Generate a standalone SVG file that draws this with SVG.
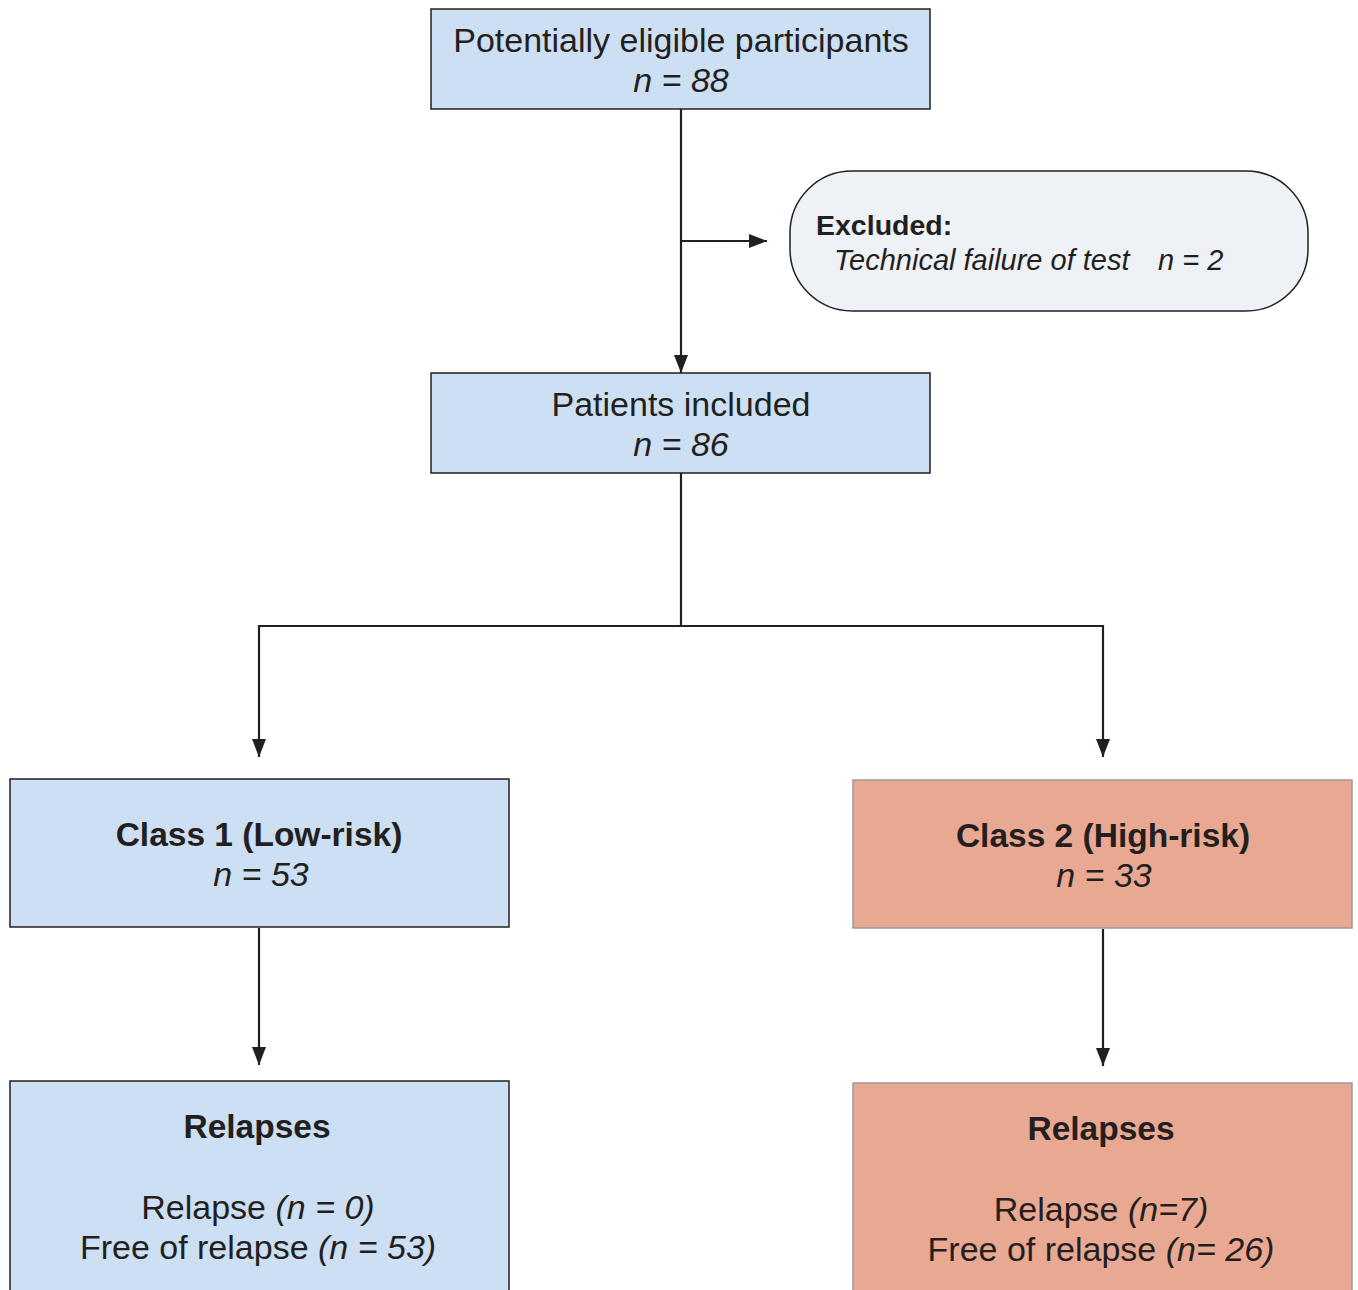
<svg xmlns="http://www.w3.org/2000/svg" width="1358" height="1290" viewBox="0 0 1358 1290">
<style>
text{font-family:"Liberation Sans",Arial,sans-serif;fill:#231f20;text-anchor:middle}
.t{font-size:34px}
.b{font-size:33.5px;font-weight:bold}
.i{font-style:italic}
.blue{fill:#cddff2;stroke:#231f20;stroke-width:1.5}
.red{fill:#e9a892;stroke:#9a9a9a;stroke-width:1.5}
.ex{fill:#eef1f6;stroke:#231f20;stroke-width:1.5}
.c{fill:none;stroke:#231f20;stroke-width:2.2}
</style>
<defs>
<marker id="ah" markerUnits="userSpaceOnUse" markerWidth="18" markerHeight="14" viewBox="0 0 18 14" refX="18" refY="7" orient="auto">
<path d="M0,0 L18,7 L0,14 Z" fill="#231f20"/>
</marker>
</defs>
<g id="connectors">
<path class="c" d="M681,109 V373" marker-end="url(#ah)"/>
<path class="c" d="M681,241 H767" marker-end="url(#ah)"/>
<path class="c" d="M681,473 V626"/>
<path class="c" d="M681,626 H259 V757" marker-end="url(#ah)"/>
<path class="c" d="M681,626 H1103 V757" marker-end="url(#ah)"/>
<path class="c" d="M259,928 V1065" marker-end="url(#ah)"/>
<path class="c" d="M1103,929 V1066" marker-end="url(#ah)"/>
</g>
<g id="n_eligible">
<rect class="blue" x="431" y="9" width="499" height="100"/>
<text class="t" x="681" y="52">Potentially eligible participants</text>
<text class="t i" x="681" y="92">n = 88</text>
</g>
<g id="n_excluded">
<rect class="ex" x="790" y="171" width="518" height="140" rx="62" ry="62"/>
<text x="816" y="235" style="font-size:28.5px;font-weight:bold;text-anchor:start">Excluded:</text>
<text x="834" y="270" class="i" style="font-size:29px;text-anchor:start">Technical failure of test</text>
<text x="1158" y="270" class="i" style="font-size:29px;text-anchor:start">n = 2</text>
</g>
<g id="n_included">
<rect class="blue" x="431" y="373" width="499" height="100"/>
<text class="t" x="681" y="416">Patients included</text>
<text class="t i" x="681" y="456">n = 86</text>
</g>
<g id="n_class1">
<rect class="blue" x="10" y="779" width="499" height="148"/>
<text class="b" x="259" y="846">Class 1 (Low-risk)</text>
<text class="t i" x="261" y="886">n = 53</text>
</g>
<g id="n_class2">
<rect class="red" x="853" y="780" width="499" height="148"/>
<text class="b" x="1103" y="847">Class 2 (High-risk)</text>
<text class="t i" x="1104" y="887">n = 33</text>
</g>
<g id="n_relapse1">
<rect class="blue" x="10" y="1081" width="499" height="220"/>
<text class="b" x="257" y="1138">Relapses</text>
<text class="t" x="258" y="1219">Relapse <tspan class="i">(n = 0)</tspan></text>
<text class="t" x="258" y="1259">Free of relapse <tspan class="i">(n = 53)</tspan></text>
</g>
<g id="n_relapse2">
<rect class="red" x="853" y="1083" width="499" height="220"/>
<text class="b" x="1101" y="1140">Relapses</text>
<text class="t" x="1101" y="1221">Relapse <tspan class="i">(n=7)</tspan></text>
<text class="t" x="1101" y="1261">Free of relapse <tspan class="i">(n= 26)</tspan></text>
</g>
</svg>
